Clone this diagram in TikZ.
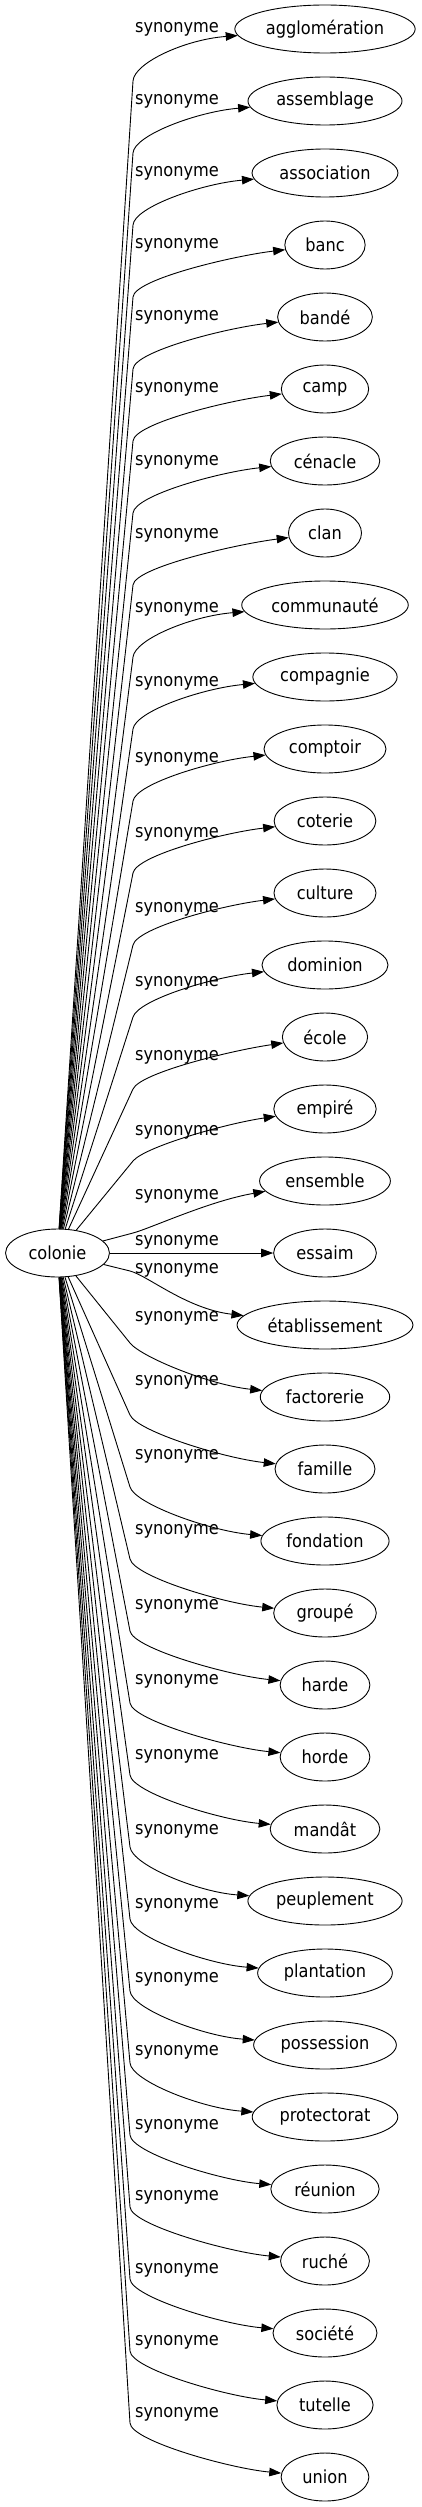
\documentclass[tikz,border=0pt]{standalone}
\usepackage{fontspec}
\setmainfont{DejaVu Sans Condensed}
\usetikzlibrary{arrows.meta, calc, shapes.geometric}
\tikzset{
  every picture/.style={x=1pt, y=-1pt, line width=0.9pt},
  word/.style={draw, ellipse, inner sep=0pt, minimum height=48pt, minimum width=#1},
  rel/.style={inner sep=0pt},
  arrow/.style={-{Triangle[length=12pt, width=8.5pt]}},
}

\begin{document}
\fontsize{18pt}{22pt}\selectfont
\begin{tikzpicture}
  \useasboundingbox (0,0) rectangle (421,2507);
  \pgfmathsetmacro{\wc}{1.268*width("colonie")+30.4}
  \node[word=\wc pt] (colonie) at (57.5,1253) {colonie};
  % synonyms above colonie
  \foreach \nm/\txt/\ly [count=\i from 0] in {
      aggl/agglomération/29, assem/assemblage/101, assoc/association/173,
      banc/banc/245, bande/bandé/317, camp/camp/389, cenacle/cénacle/462,
      clan/clan/535, commu/communauté/609, compa/compagnie/683,
      comptoir/comptoir/759, coterie/coterie/834, culture/culture/909,
      dominion/dominion/983, ecole/école/1057, empire/empiré/1132,
      ensemble/ensemble/1196} {
    \pgfmathsetmacro{\y}{29+72*\i}
    \pgfmathsetmacro{\w}{1.268*width("\txt")+30.4}
    \pgfmathsetmacro{\kk}{17-\i}
    \node[word=\w pt] (\nm) at (325,\y) {\txt};
    \node[rel] (l\nm) at (177,\ly) {synonyme};
    \coordinate (b\nm) at (133,\y+52);
    \draw[arrow] (colonie) -- (b\nm)
      .. controls ($(b\nm)!-18pt!(colonie.center)$) and ($(\nm.west)+(-50,10+10/\kk)$) .. (\nm);
  }
  % essaim, straight across
  \pgfmathsetmacro{\w}{1.268*width("essaim")+30.4}
  \node[word=\w pt] (essaim) at (325,1253) {essaim};
  \node[rel] (lessaim) at (177,1242) {synonyme};
  \draw[arrow] (colonie) -- (essaim);
  % synonyms below colonie
  \foreach \nm/\txt/\ly [count=\i from 18] in {
      etab/établissement/1270, facto/factorerie/1318, famille/famille/1382,
      fondation/fondation/1456, groupe/groupé/1531, harde/harde/1606,
      horde/horde/1681, mandat/mandât/1756, peuple/peuplement/1831,
      plant/plantation/1905, possess/possession/1979, protect/protectorat/2052,
      reunion/réunion/2126, ruche/ruché/2197, societe/société/2270,
      tutelle/tutelle/2342, union/union/2414} {
    \pgfmathsetmacro{\y}{29+72*\i}
    \pgfmathsetmacro{\w}{1.268*width("\txt")+30.4}
    \pgfmathsetmacro{\kk}{\i-17}
    \node[word=\w pt] (\nm) at (325,\y) {\txt};
    \node[rel] (l\nm) at (177,\ly) {synonyme};
    \coordinate (b\nm) at (130,\y-54);
    \draw[arrow] (colonie) -- (b\nm)
      .. controls ($(b\nm)!-18pt!(colonie.center)$) and ($(\nm.west)+(-50,-8-8/\kk)$) .. (\nm);
  }
\end{tikzpicture}
\end{document}
